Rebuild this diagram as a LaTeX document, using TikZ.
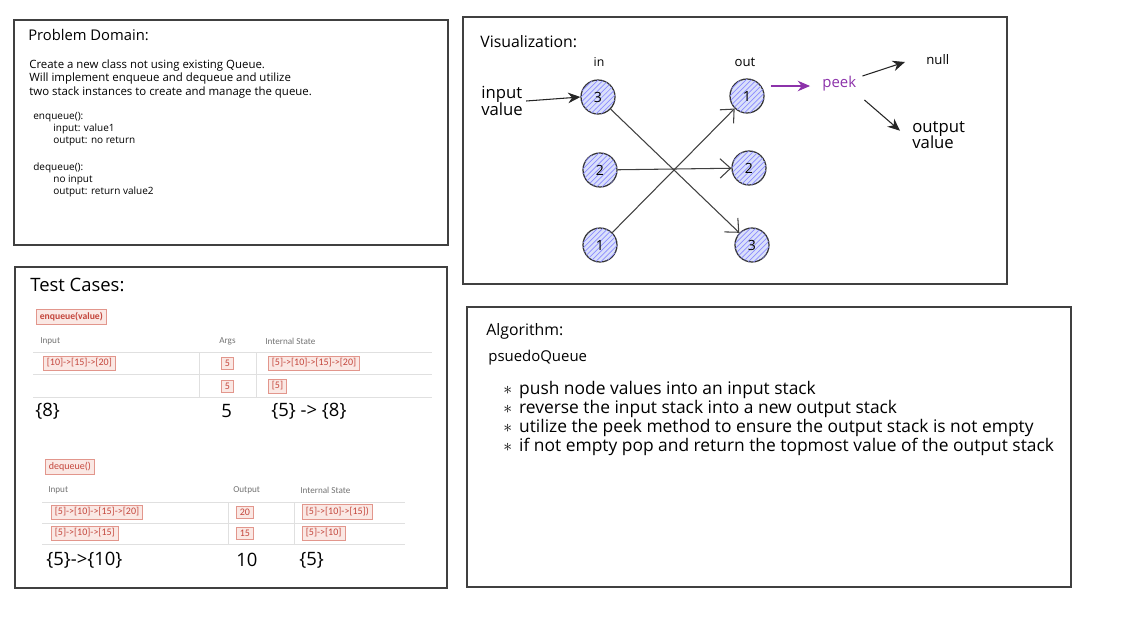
\documentclass[tikz,border=0pt]{standalone}
\usepackage{fontspec}
\setmainfont{Open Sans}
\newfontfamily\tblfont{Carlito}
\usetikzlibrary{arrows.meta,patterns,positioning}

\definecolor{badgered}{RGB}{196,70,60}
\definecolor{badgefill}{RGB}{250,232,228}
\definecolor{badgeline}{RGB}{226,150,140}
\definecolor{peekpurple}{RGB}{140,50,170}
\definecolor{circfill}{RGB}{218,224,250}

\tikzset{
  panel/.style={draw=black!75, line width=0.9pt},
  txt/.style={anchor=west, inner sep=0pt},
  hdr/.style={txt, font=\fontsize{8.4}{9}\selectfont},
  body/.style={txt, font=\fontsize{6.5}{7.5}\selectfont, align=left},
  sub/.style={txt, font=\fontsize{5.7}{6.8}\selectfont, align=left},
  hand/.style={txt, font=\fontsize{10.5}{11}\selectfont},
  stk/.style={circle, draw=black!80, line width=0.7pt, minimum size=0.68cm,
    inner sep=0pt, fill=circfill, font=\fontsize{8}{9}\selectfont,
    postaction={pattern=north east lines, pattern color=blue!45}},
  cross/.style={draw=black!75, line width=0.6pt,
    -{Straight Barb[length=6pt,width=11pt]}},
  tip/.style={draw=black!85, line width=0.6pt, -{Stealth[length=7pt,width=6pt]}},
  badge/.style={anchor=west, draw=badgeline, fill=badgefill, text=badgered,
    font=\tblfont\fontsize{5.7}{6.5}\selectfont, inner xsep=2pt, inner ysep=1.6pt},
  colhead/.style={txt, text=black!55, font=\tblfont\fontsize{5.2}{6}\selectfont},
  grid/.style={draw=black!12, line width=0.4pt}
}

\begin{document}
\begin{tikzpicture}[x=0.02cm, y=-0.02cm]
\useasboundingbox[fill=white] (0,0) rectangle (1126,636);

% panels
\draw[panel] (14,20) rectangle (448,245);
\draw[panel] (463,17) rectangle (1007,284);
\draw[panel] (15,267) rectangle (447,588);
\draw[panel] (467,307) rectangle (1071,587);

% problem domain
\node[hdr] (pdtitle) at (28,35) {Problem Domain:};
\node[body] (pdtext) at (29,79) {Create a new class not using existing Queue.\\
  Will implement enqueue and dequeue and utilize\\
  two stack instances to create and manage the queue.};
\node[sub] (enq) at (33,117) {enqueue():};
\node[sub] (enqio) at (53,135) {input: value1\\output: no return};
\node[sub] (deq) at (33,168) {dequeue():};
\node[sub] (deqio) at (53,186) {no input\\output: return value2};

% visualization
\node[txt, font=\fontsize{9}{10}\selectfont] (vistitle) at (480,42) {Visualization:};
\node[font=\fontsize{7}{8}\selectfont] (inlbl) at (599,62) {in};
\node[font=\fontsize{7.5}{8}\selectfont] (outlbl) at (745,62) {out};
\node[stk] (in3) at (598,97) {3};
\node[stk] (in2) at (600,170) {2};
\node[stk] (in1) at (600,245) {1};
\node[stk] (out1) at (747,96) {1};
\node[stk] (out2) at (749,168) {2};
\node[stk] (out3) at (752,245) {3};
\node[hand, align=left, font=\fontsize{9.5}{9.5}\selectfont] (inval) at (481,101) {input\\value};
\draw[tip] (inval.east) ++(3,0) -- (in3.west);
\draw[cross] (in3) -- (out3);
\draw[cross] (in2) -- (out2);
\draw[cross] (in1) -- (out1);
\node[hand, text=peekpurple, font=\fontsize{8.5}{9}\selectfont] (peek) at (822,84) {peek};
\draw[tip, draw=peekpurple, fill=peekpurple] (out1.east) ++(6,-10) -- ([shift={(-12,2)}]peek.west);
\node[hand, font=\fontsize{7.5}{8}\selectfont] (null) at (926,60) {null};
\node[hand, align=left, font=\fontsize{9.5}{9.5}\selectfont] (outval) at (912,135) {output\\value};
\draw[tip] ([shift={(6,-8)}]peek.east) -- ([shift={(-21,2)}]null.west);
\draw[tip] ([shift={(8,16)}]peek.east) -- ([shift={(-12,10)}]outval.north west);

% test cases
\node[hdr, font=\fontsize{10.5}{11}\selectfont] (tctitle) at (30,285) {Test Cases:};
\node[badge, font=\tblfont\bfseries\fontsize{5.5}{6.5}\selectfont] (enqbadge) at (36,317) {enqueue(value)};
\node[colhead] (enqin) at (40,341) {Input};
\node[colhead] (enqargs) at (219,341) {Args};
\node[colhead] (enqstate) at (265,341) {Internal State};
\draw[grid] (33,352) -- (432,352) (33,374) -- (432,374) (33,397) -- (432,397);
\draw[grid] (199,352) -- (199,397) (256,352) -- (256,397);
\node[badge] (e1in) at (43,363) {[10]->[15]->[20]};
\node[badge] (e1arg) at (221,363) {5};
\node[badge] (e1st) at (268,363) {[5]->[10]->[15]->[20]};
\node[badge] (e2arg) at (221,386) {5};
\node[badge] (e2st) at (268,386) {[5]};
\node[hand] (e3in) at (35,411) {\{8\}};
\node[hand] (e3arg) at (221,411) {5};
\node[hand] (e3st) at (271,411) {\{5\} -> \{8\}};

\node[badge] (deqbadge) at (45,467) {dequeue()};
\node[colhead] (deqin) at (48,490) {Input};
\node[colhead] (deqout) at (233,490) {Output};
\node[colhead] (deqstate) at (300,490) {Internal State};
\draw[grid] (42,502) -- (405,502) (42,523) -- (405,523) (42,544) -- (405,544);
\draw[grid] (228,502) -- (228,544) (294,502) -- (294,544);
\node[badge] (d1in) at (51,512) {[5]->[10]->[15]->[20]};
\node[badge] (d1out) at (236,512) {20};
\node[badge] (d1st) at (302,512) {[5]->[10]->[15])};
\node[badge] (d2in) at (51,533) {[5]->[10]->[15]};
\node[badge] (d2out) at (236,533) {15};
\node[badge] (d2st) at (302,533) {[5]->[10]};
\node[hand] (d3in) at (46,560) {\{5\}->\{10\}};
\node[hand] (d3out) at (236,560) {10};
\node[hand] (d3st) at (299,560) {\{5\}};

% algorithm
\node[txt, font=\fontsize{9}{10}\selectfont] (algtitle) at (486,331) {Algorithm:};
\node[txt, font=\fontsize{8.5}{9}\selectfont] (pq) at (488,358) {psuedoQueue};
\foreach \t [count=\i] in {push node values into an input stack,
    reverse the input stack into a new output stack,
    utilize the peek method to ensure the output stack is not empty,
    if not empty pop and return the topmost value of the output stack}
  \node[txt, font=\fontsize{9.9}{10.5}\selectfont] (step\i) at (503,371+19*\i) {$\ast$\hspace{4pt}\t};
\end{tikzpicture}
\end{document}
